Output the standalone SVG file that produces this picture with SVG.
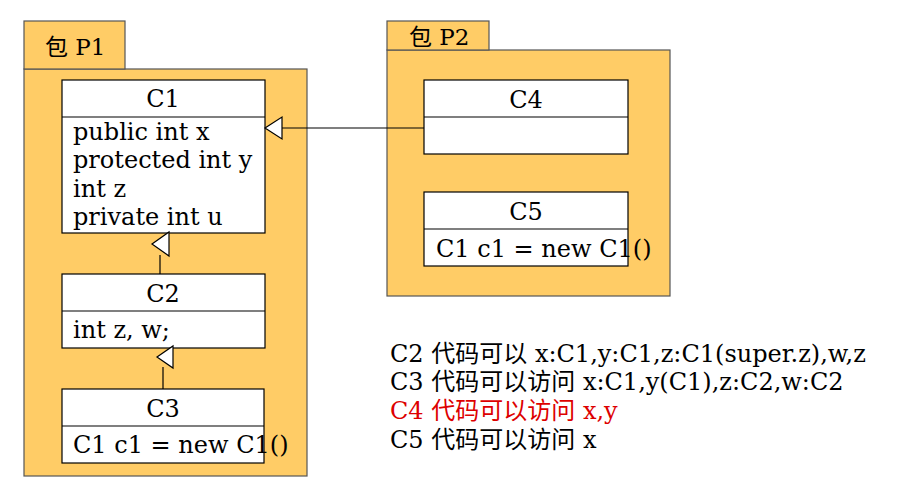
<svg xmlns="http://www.w3.org/2000/svg" width="898" height="486" viewBox="0 0 898 486">
<style>
text{font-family:"DejaVu Serif","Noto Sans CJK SC",serif;font-size:24px;fill:#000}
.pkg{fill:#ffcc66;stroke:#555;stroke-width:1.2}
.box{fill:#fff;stroke:#000;stroke-width:1.2}
.ln{stroke:#000;stroke-width:1.2;fill:none}
.tri{fill:#fff;stroke:#000;stroke-width:1.2}
.mid{text-anchor:middle}
.tab{font-size:23px}
.red{fill:#dd0000}
</style>
<rect width="898" height="486" fill="#fff"/>
<g id="P1">
<rect class="pkg" x="24" y="69" width="283" height="407"/>
<rect class="pkg" x="24" y="21" width="101" height="48"/>
<text class="tab" x="45" y="55">包 P1</text>
</g>
<g id="P2">
<rect class="pkg" x="387" y="50" width="283" height="246"/>
<rect class="pkg" x="387" y="21" width="102" height="29"/>
<text class="tab" x="409" y="45">包 P2</text>
</g>
<g id="C1">
<rect class="box" x="62" y="80" width="203" height="153"/>
<line class="ln" x1="62" y1="117" x2="265" y2="117"/>
<text class="mid" x="163" y="107">C1</text>
<text x="73" y="140">public int x</text>
<text x="73" y="168">protected int y</text>
<text x="73" y="197">int z</text>
<text x="73" y="225">private int u</text>
</g>
<g id="C2">
<rect class="box" x="62" y="274" width="203" height="74"/>
<line class="ln" x1="62" y1="311" x2="265" y2="311"/>
<text class="mid" x="163" y="302">C2</text>
<text x="73" y="338">int z, w;</text>
</g>
<g id="C3">
<rect class="box" x="62" y="389" width="202" height="74"/>
<line class="ln" x1="62" y1="426" x2="264" y2="426"/>
<text class="mid" x="163" y="417">C3</text>
<text x="73" y="453">C1 c1 = new C1()</text>
</g>
<g id="C4">
<rect class="box" x="424" y="80" width="204" height="74"/>
<line class="ln" x1="424" y1="117" x2="628" y2="117"/>
<text class="mid" x="526" y="108">C4</text>
</g>
<g id="C5">
<rect class="box" x="424" y="192" width="204" height="74"/>
<line class="ln" x1="424" y1="229" x2="628" y2="229"/>
<text class="mid" x="526" y="220">C5</text>
<text x="436" y="257">C1 c1 = new C1()</text>
</g>
<g id="connectors">
<line class="ln" x1="160" y1="274" x2="160" y2="255"/>
<polygon class="tri" points="152,244 169,232 169,256"/>
<line class="ln" x1="163" y1="389" x2="163" y2="367"/>
<polygon class="tri" points="157,357 173,346 173,368"/>
<line class="ln" x1="282" y1="128" x2="424" y2="128"/>
<polygon class="tri" points="265,128 282,117 282,139"/>
</g>
<g id="notes">
<text x="390" y="362">C2 代码可以 x:C1,y:C1,z:C1(super.z),w,z</text>
<text x="390" y="390">C3 代码可以访问 x:C1,y(C1),z:C2,w:C2</text>
<text class="red" x="390" y="419">C4 代码可以访问 x,y</text>
<text x="390" y="448">C5 代码可以访问 x</text>
</g>
</svg>
